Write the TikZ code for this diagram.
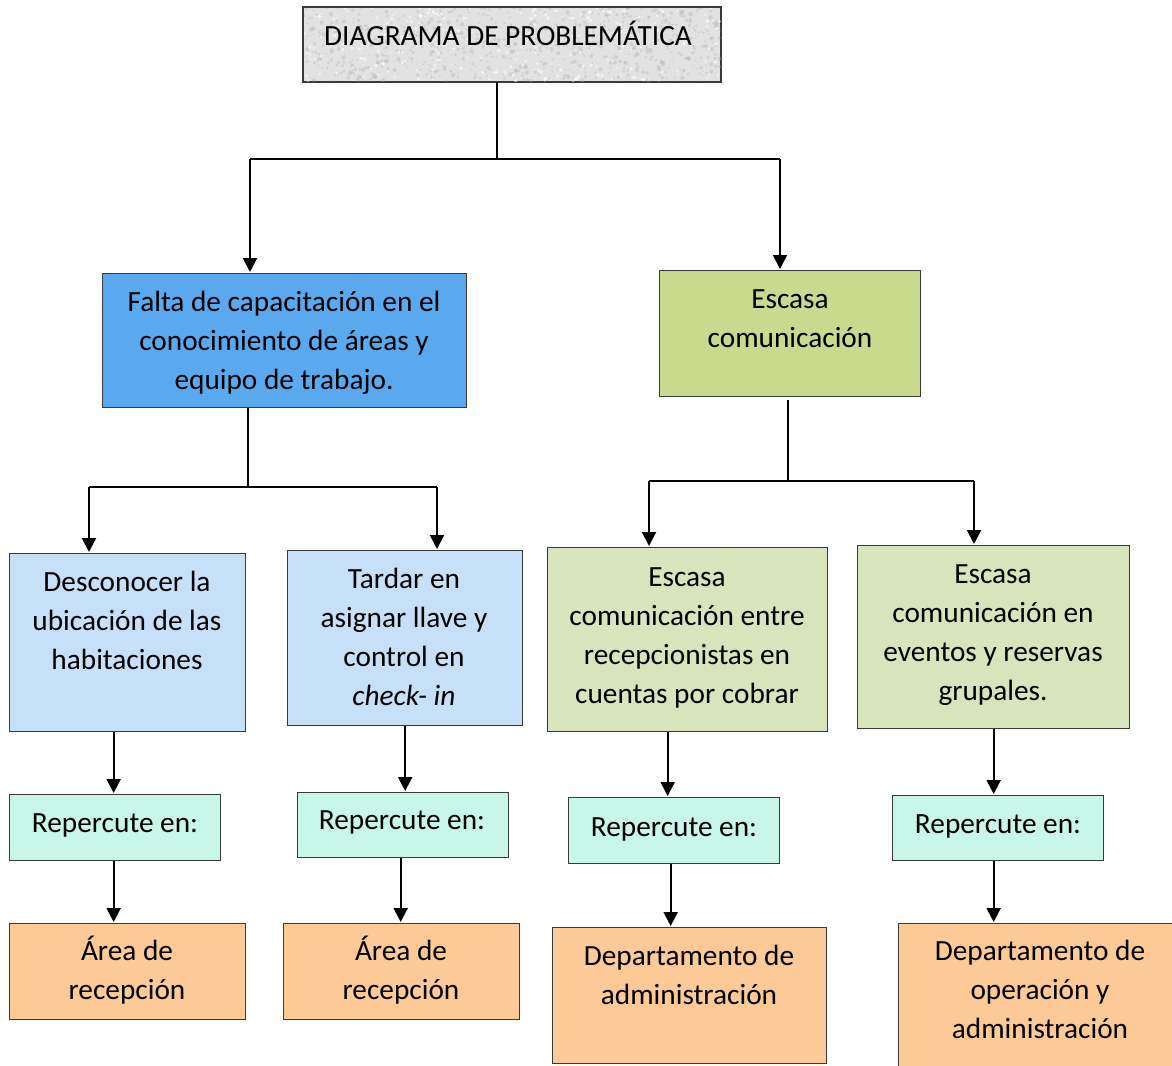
\documentclass[tikz,border=0pt]{standalone}
\usepackage{fontspec}
\setmainfont{Carlito}
\usetikzlibrary{arrows.meta,calc}

\definecolor{edge}{HTML}{3A3A3A}
\definecolor{titlefill}{HTML}{E2E2E2}
\definecolor{mainblue}{HTML}{5AA9EF}
\definecolor{maingreen}{HTML}{C9DA8E}
\definecolor{subblue}{HTML}{C6E0FA}
\definecolor{subgreen}{HTML}{D8E4BC}
\definecolor{mint}{HTML}{C8F6E8}
\definecolor{peach}{HTML}{FCCA96}

\tikzset{
  panel/.style={draw=edge, line width=1.3pt, inner sep=0pt, anchor=north west},
  txt/.style={inner sep=0pt, anchor=north, align=center,
    font=\fontsize{29.3}{39}\selectfont},
  conn/.style={line width=2pt, black},
  arr/.style={conn, -{Triangle[width=14pt,length=14pt]}, shorten >=1pt},
}

\begin{document}
\begin{tikzpicture}[x=1pt, y=-1pt]
\useasboundingbox (0,0) rectangle (1172,1065);

% ---------- boxes ----------
\node[panel, fill=titlefill, minimum width=417, minimum height=74] (T) at (303,7) {};
\begin{scope}
  \clip (T.south west) rectangle (T.north east);
  \pgfmathsetseed{17}
  \foreach \i in {1,...,900}{
    \fill[gray!60, opacity=0.35] ({303+417*rnd},{7+74*rnd}) circle ({0.4+1.8*rnd});
  }
  \foreach \i in {1,...,400}{
    \fill[white, opacity=0.6] ({303+417*rnd},{7+74*rnd}) circle ({0.4+1.6*rnd});
  }
\end{scope}
\draw[edge, line width=1.3pt] (T.south west) rectangle (T.north east);

\node[panel, fill=mainblue, minimum width=364, minimum height=134] (A) at (102,273) {};
\node[panel, fill=maingreen, minimum width=261, minimum height=126] (B) at (659,270) {};

\node[panel, fill=subblue, minimum width=236, minimum height=178] (C1) at (9,553) {};
\node[panel, fill=subblue, minimum width=235, minimum height=175] (C2) at (287,550) {};
\node[panel, fill=subgreen, minimum width=280, minimum height=184] (C3) at (547,547) {};
\node[panel, fill=subgreen, minimum width=272, minimum height=183] (C4) at (857,545) {};

\node[panel, fill=mint, minimum width=211, minimum height=66] (R1) at (9,794) {};
\node[panel, fill=mint, minimum width=211, minimum height=65] (R2) at (297,792) {};
\node[panel, fill=mint, minimum width=211, minimum height=66] (R3) at (568,797) {};
\node[panel, fill=mint, minimum width=211, minimum height=65] (R4) at (892,795) {};

\node[panel, fill=peach, minimum width=236, minimum height=96] (F1) at (9,923) {};
\node[panel, fill=peach, minimum width=236, minimum height=96] (F2) at (283,923) {};
\node[panel, fill=peach, minimum width=274, minimum height=136] (F3) at (552,927) {};
\node[panel, fill=peach, minimum width=284, minimum height=150] (F4) at (898,923) {};

% ---------- texts ----------
\node[txt] (Tt) at (508,18) {\strut DIAGRAMA DE PROBLEMÁTICA};
\node[txt] (At) at (284,284) {\strut Falta de capacitación en el\\conocimiento de áreas y\\equipo de trabajo.};
\node[txt] (Bt) at (790,281) {\strut Escasa\\comunicación};
\node[txt] (C1t) at (127,564) {\strut Desconocer la\\ubicación de las\\habitaciones};
\node[txt] (C2t) at (404,561) {\strut Tardar en\\asignar llave y\\control en\\\textit{check- in}};
\node[txt] (C3t) at (687,559) {\strut Escasa\\comunicación entre\\recepcionistas en\\cuentas por cobrar};
\node[txt] (C4t) at (993,556) {\strut Escasa\\comunicación en\\eventos y reservas\\grupales.};
\node[txt] (R1t) at (115,805) {\strut Repercute en:};
\node[txt] (R2t) at (402,802) {\strut Repercute en:};
\node[txt] (R3t) at (674,809) {\strut Repercute en:};
\node[txt] (R4t) at (998,806) {\strut Repercute en:};
\node[txt] (F1t) at (127,933) {\strut Área de\\recepción};
\node[txt] (F2t) at (401,933) {\strut Área de\\recepción};
\node[txt] (F3t) at (689,938) {\strut Departamento de\\administración};
\node[txt] (F4t) at (1040,933) {\strut Departamento de\\operación y\\administración};

% ---------- connectors ----------
\coordinate (j0) at (497,159);
\coordinate (jL) at (250,159);
\coordinate (jR) at (780,159);
\draw[conn] (T.south -| j0) -- (j0);
\draw[conn] (jL) -- (jR);
\draw[arr] (jL) -- (A.north -| jL);
\draw[arr] (jR) -- (B.north -| jR);

\coordinate (kA) at (248,487);
\coordinate (kAL) at (89,487);
\coordinate (kAR) at (437,487);
\draw[conn] (A.south -| kA) -- (kA);
\draw[conn] (kAL) -- (kAR);
\draw[arr] (kAL) -- (C1.north -| kAL);
\draw[arr] (kAR) -- (C2.north -| kAR);

\coordinate (kB) at (788,481);
\coordinate (kBL) at (649,481);
\coordinate (kBR) at (974,481);
\draw[conn] ([yshift=-3pt]B.south -| kB) -- (kB);
\draw[conn] (kBL) -- (kBR);
\draw[arr] (kBL) -- (C3.north -| kBL);
\draw[arr] (kBR) -- (C4.north -| kBR);

\draw[arr] ([xshift=-14pt]C1.south) -- ([xshift=-14pt]C1.south |- R1.north);
\draw[arr] (C2.south) -- (C2.south |- R2.north);
\draw[arr] ([xshift=-20pt]C3.south) -- ([xshift=-20pt]C3.south |- R3.north);
\draw[arr] (C4.south) -- (C4.south |- R4.north);

\draw[arr] ([xshift=-1.5pt]R1.south) -- ([xshift=-1.5pt]R1.south |- F1.north);
\draw[arr] ([xshift=-2.5pt]R2.south) -- ([xshift=-2.5pt]R2.south |- F2.north);
\draw[arr] ([xshift=-3.5pt]R3.south) -- ([xshift=-3.5pt]R3.south |- F3.north);
\draw[arr] ([xshift=-4.5pt]R4.south) -- ([xshift=-4.5pt]R4.south |- F4.north);
\end{tikzpicture}
\end{document}
